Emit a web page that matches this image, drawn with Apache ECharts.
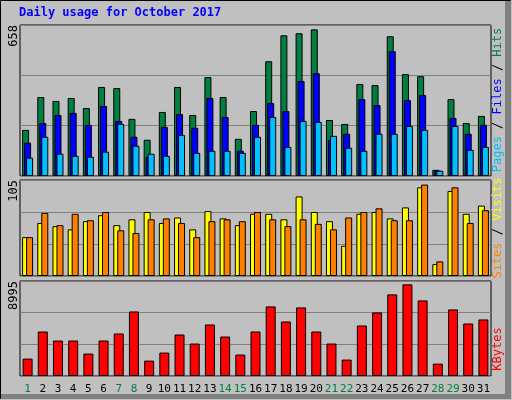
<!DOCTYPE html>
<html><head><meta charset="utf-8">
<script src="https://cdn.jsdelivr.net/npm/echarts@6/dist/echarts.min.js"></script>
<style>html,body{margin:0;padding:0;background:#C0C0C0}#c{width:512px;height:400px}</style>
</head><body><div id="c"></div>
<script>
const days = ['1','2','3','4','5','6','7','8','9','10','11','12','13','14','15','16','17','18','19','20','21','22','23','24','25','26','27','28','29','30','31'];
const weekend = ['1','7','8','14','15','21','22','28','29'];
const hits  = [201,344,327,340,296,388,383,249,158,279,388,266,431,344,162,283,500,613,622,639,244,227,401,396,609,444,435,27,335,231,262];
const files = [145,231,266,275,223,305,240,171,84,214,270,210,340,257,110,223,318,283,414,448,158,184,335,309,544,331,353,23,253,184,223];
const pages = [80,171,97,88,84,106,227,132,97,88,179,101,110,110,101,171,257,127,240,236,175,123,110,184,184,218,201,23,218,114,127];
const visits = [42.5,58,54.5,51,60,66.5,55.6,62,70,58,64,51,71,63,55.6,68,68,62,87,70,60,33,68,70,63,75,97,13,93,68,77];
const sites  = [42.5,69,55.6,68,61,70,50,47,62,63,58,42.5,60,62,60,70,62,54.5,62,57,51,64,70,74,61,61,100,16,97,58,72];
const kbytes = [1647,4212,3357,3357,2122,3357,4022,6112,1457,2217,3927,3072,4877,3737,2027,4212,6587,5162,6492,4212,3072,1552,4782,6017,7727,8678,7157,1172,6302,4972,5352];
const maxTop = 658, maxMid = 105, maxBot = 8995;

const chart = echarts.init(document.getElementById('c'));
const mono = 'DejaVu Sans Mono';
function grid(top,h){return {left:20,top:top,width:471,height:h,show:true,backgroundColor:'#C0C0C0',borderColor:'#000',borderWidth:1};}
function xa(i,show){return {type:'category',gridIndex:i,data:days,axisTick:{show:false},axisLine:{show:false},
  axisLabel:{show:show,fontFamily:mono,fontSize:11,margin:8,interval:0,color:(v)=>weekend.includes(v)?'#008040':'#000'}};}
function ya(i,max){return {type:'value',gridIndex:i,min:0,max:max,interval:max/3,axisLabel:{show:false},axisTick:{show:false},axisLine:{show:false},
  splitLine:{lineStyle:{color:'#808080',width:1}}};}
const bs = {borderColor:'#000',borderWidth:1};
function bar(name,data,i,color,w,gap){return {name,type:'bar',xAxisIndex:i,yAxisIndex:i,data,barWidth:w,barGap:gap,
  itemStyle:Object.assign({color},bs),silent:true,animation:false};}
function vtext(x,y,txt,color){return {type:'text',x,y,rotation:Math.PI/2,style:{text:txt,fill:color,font:'12px '+mono,align:'left',verticalAlign:'middle'}};}
function ltext(x,y,txt){return {type:'text',x,y,rotation:Math.PI/2,style:{text:txt,fill:'#000',font:'12px '+mono,align:'right',verticalAlign:'middle'}};}
chart.setOption({
  backgroundColor:'#C0C0C0',
  animation:false,
  grid:[grid(25,151),grid(180,96),grid(281,95)],
  xAxis:[xa(0,false),xa(1,false),xa(2,true)],
  yAxis:[ya(0,maxTop),ya(1,maxMid),ya(2,maxBot)],
  series:[
    bar('Hits',hits,0,'#008040',7,'-71.4%'),
    bar('Files',files,0,'#0000FF',7,'-71.4%'),
    bar('Pages',pages,0,'#00C0FF',7,'-71.4%'),
    bar('Visits',visits,1,'#FFFF00',7,'-43%'),
    bar('Sites',sites,1,'#FF8000',7,'-43%'),
    bar('KBytes',kbytes,2,'#FF0000',10,'0%')
  ],
  graphic:[
    {type:'rect',shape:{x:0.5,y:0.5,width:510,height:398},style:{fill:null,stroke:'#000',lineWidth:1},silent:true},
    {type:'rect',shape:{x:505,y:1,width:6,height:398},style:{fill:'#808080'},silent:true},
    {type:'rect',shape:{x:1,y:394,width:510,height:5},style:{fill:'#808080'},silent:true},
    {type:'text',x:19,y:13,style:{text:'Daily usage for October 2017',fill:'#0000FF',font:'bold 12px '+mono,verticalAlign:'middle'}},
    ltext(14,25,String(maxTop)),
    ltext(14,180,String(maxMid)),
    ltext(14,281,String(maxBot)),
    {type:'text',x:498,y:100,rotation:Math.PI/2,style:{rich:{p:{fill:'#00C0FF',font:'12px '+mono},s:{fill:'#000',font:'12px '+mono},f:{fill:'#0000FF',font:'12px '+mono},h:{fill:'#008040',font:'12px '+mono}},
      text:'{p|Pages}{s| / }{f|Files}{s| / }{h|Hits}',align:'center',verticalAlign:'middle'}},
    {type:'text',x:498,y:228,rotation:Math.PI/2,style:{rich:{a:{fill:'#FF8000',font:'12px '+mono},s:{fill:'#000',font:'12px '+mono},b:{fill:'#FFFF00',font:'12px '+mono}},
      text:'{a|Sites}{s| / }{b|Visits}',align:'center',verticalAlign:'middle'}},
    {type:'text',x:498,y:349,rotation:Math.PI/2,style:{text:'KBytes',fill:'#FF0000',font:'12px '+mono,align:'center',verticalAlign:'middle'}}
  ]
});
</script></body></html>
